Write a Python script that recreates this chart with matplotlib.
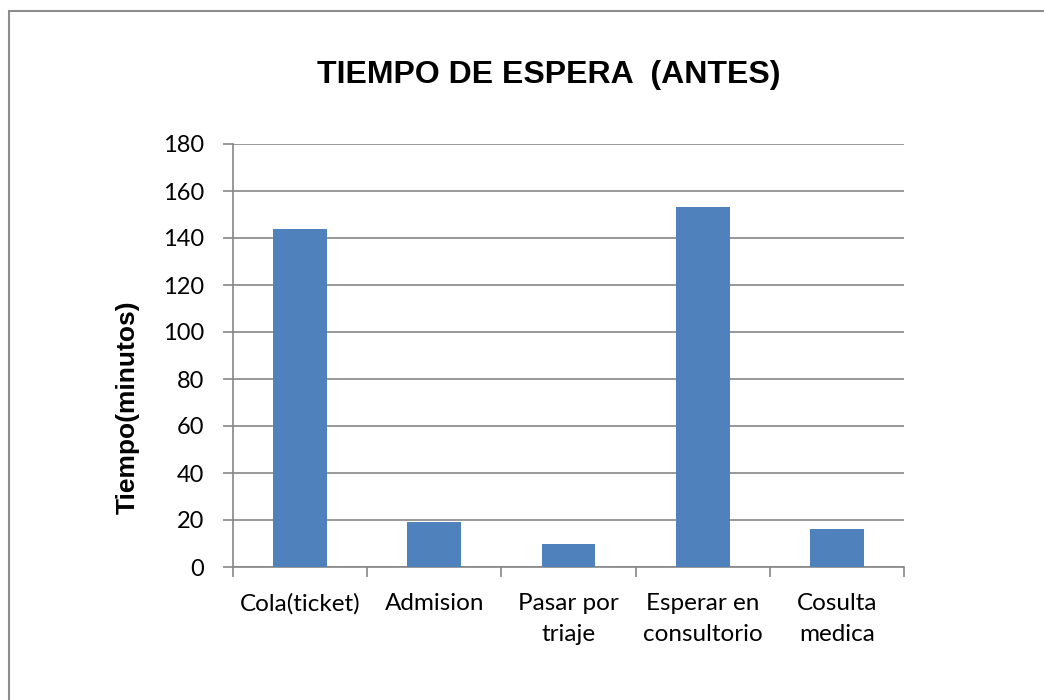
import matplotlib
matplotlib.use("Agg")
import matplotlib.pyplot as plt
from matplotlib.patches import Rectangle

categories = ["Cola(ticket)", "Admision", "Pasar por\ntriaje",
              "Esperar en\nconsultorio", "Cosulta\nmedica"]
minutes = [144, 19, 10, 153, 16]
y_ticks = [0, 20, 40, 60, 80, 100, 120, 140, 160, 180]

BAR_COLOUR = "#4F81BD"
GRID_COLOUR = "#868686"

W, H = 1044, 700
fig = plt.figure(figsize=(W / 100, H / 100), dpi=100)

# plot area in pixel coords
left, right, top, bottom = 233, 904, 144, 567
ax = fig.add_axes([left / W, 1 - bottom / H, (right - left) / W, (bottom - top) / H])

x = list(range(len(categories)))
ax.bar(x, minutes, width=0.4, color=BAR_COLOUR, zorder=3)

ax.set_xlim(-0.5, len(categories) - 0.5)
ax.set_ylim(0, 180)
ax.set_yticks(y_ticks)
ax.set_yticklabels([str(v) for v in y_ticks], family="Lato", fontsize=17)
ax.yaxis.grid(True, color=GRID_COLOUR, linewidth=1.2, zorder=0)

# category labels sit between the boundary ticks
ax.set_xticks([i - 0.5 for i in range(len(categories) + 1)])
ax.set_xticklabels([])
ax.set_xticks(x, minor=True)
ax.set_xticklabels(categories, minor=True, family="Lato", fontsize=17.5,
                   linespacing=1.55, va="top")
ax.tick_params(axis="x", which="minor", length=0, pad=19)
ax.tick_params(axis="x", which="major", length=7, color=GRID_COLOUR, width=1.2)
ax.tick_params(axis="y", length=7, color=GRID_COLOUR, width=1.2, pad=14)

for side in ("top", "right"):
    ax.spines[side].set_visible(False)
for side in ("left", "bottom"):
    ax.spines[side].set_color(GRID_COLOUR)
    ax.spines[side].set_linewidth(1.2)

fig.text(128 / W, 1 - 407 / H, "Tiempo(minutos)", family="Liberation Sans",
         fontweight="bold", fontsize=19, rotation=90, ha="center", va="center")

fig.text(549 / W, 1 - 75 / H, "TIEMPO DE ESPERA  (ANTES)", family="Liberation Sans",
         fontweight="bold", fontsize=23, ha="center", va="center")

# chart border, running off the right and bottom edges
fig.patches.append(Rectangle((9 / W, -0.1), 1.2, 1 - 11 / H + 0.1,
                             transform=fig.transFigure, fill=False,
                             edgecolor="#8C8C8C", linewidth=1.5))

fig.savefig("out.png", dpi=100)
